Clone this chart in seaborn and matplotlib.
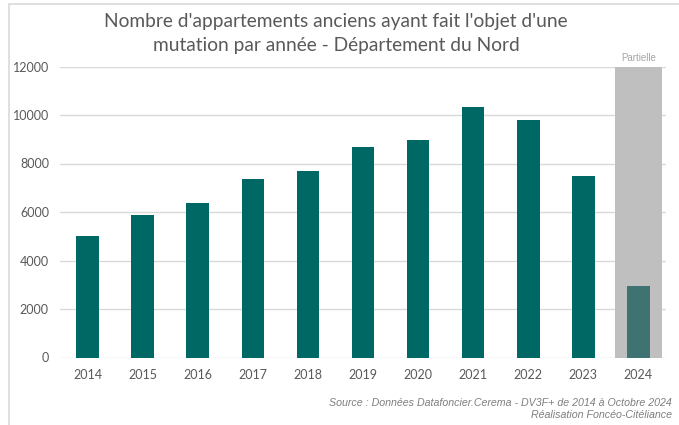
import matplotlib
matplotlib.use('Agg')
import matplotlib.pyplot as plt
import seaborn as sns
import pandas as pd
from matplotlib.patches import Rectangle

# data
years = ['2014', '2015', '2016', '2017', '2018', '2019', '2020', '2021', '2022', '2023', '2024']
mutations = [5020, 5880, 6360, 7360, 7700, 8670, 8960, 10330, 9810, 7470, 2950]
partial_years = ['2024']
y_ticks = [0, 2000, 4000, 6000, 8000, 10000, 12000]

title = "Nombre d'appartements anciens ayant fait l'objet d'une\nmutation par année - Département du Nord"
source = "Source : Données Datafoncier.Cerema - DV3F+ de 2014 à Octobre 2024\nRéalisation Foncéo-Citéliance"

sns.set_style('white')
plt.rcParams['font.family'] = ['Lato', 'DejaVu Sans']

df = pd.DataFrame({'annee': years, 'nb': mutations})
band = pd.DataFrame({'annee': partial_years, 'nb': [max(y_ticks)] * len(partial_years)})
colors = {y: ('#3f7371' if y in partial_years else '#006864') for y in years}

fig = plt.figure(figsize=(6.79, 4.25), dpi=100)
ax = fig.add_axes([60 / 679, 1 - 357.5 / 425, 606 / 679, 291 / 425])

ax.yaxis.grid(True, color='#d9d9d9', linewidth=1)
ax.set_axisbelow(True)

sns.barplot(data=band, x='annee', y='nb', order=years, color='#bfbfbf',
            width=0.84, ax=ax, saturation=1, zorder=1, linewidth=0)
sns.barplot(data=df, x='annee', y='nb', order=years, hue='annee', palette=colors,
            legend=False, width=0.41, ax=ax, saturation=1, zorder=2, linewidth=0)

ax.set_ylim(0, max(y_ticks))
ax.set_xlim(-0.5, len(years) - 0.5)
ax.set_yticks(y_ticks)
ax.set_yticklabels([str(t) for t in y_ticks])
ax.set_xlabel('')
ax.set_ylabel('')
ax.tick_params(axis='both', length=0, labelsize=9, labelcolor='#595959')
ax.tick_params(axis='y', pad=8)
ax.tick_params(axis='x', pad=8)
sns.despine(ax=ax, left=True, bottom=True)

for y in partial_years:
    ax.text(years.index(y), max(y_ticks) * 1.012, 'Partielle', ha='center', va='bottom',
            fontsize=7, color='#a6a6a6', family=['Liberation Sans'])

fig.text(336 / 679, 1 - 34 / 425, title, ha='center', va='center', fontsize=13.8,
         color='#595959', linespacing=1.5)
fig.text(672 / 679, 1 - 409 / 425, source, ha='right', va='center', fontsize=7.7,
         color='#7f7f7f', style='italic', family=['Liberation Sans'], linespacing=1.2)

frame = Rectangle((8.5 / 679, 1 - 3.5 / 425 - 1), 2, 1, transform=fig.transFigure,
                  fill=False, edgecolor='#d9d9d9', linewidth=1.2)
fig.patches.append(frame)

fig.savefig('out.png', dpi=100)
